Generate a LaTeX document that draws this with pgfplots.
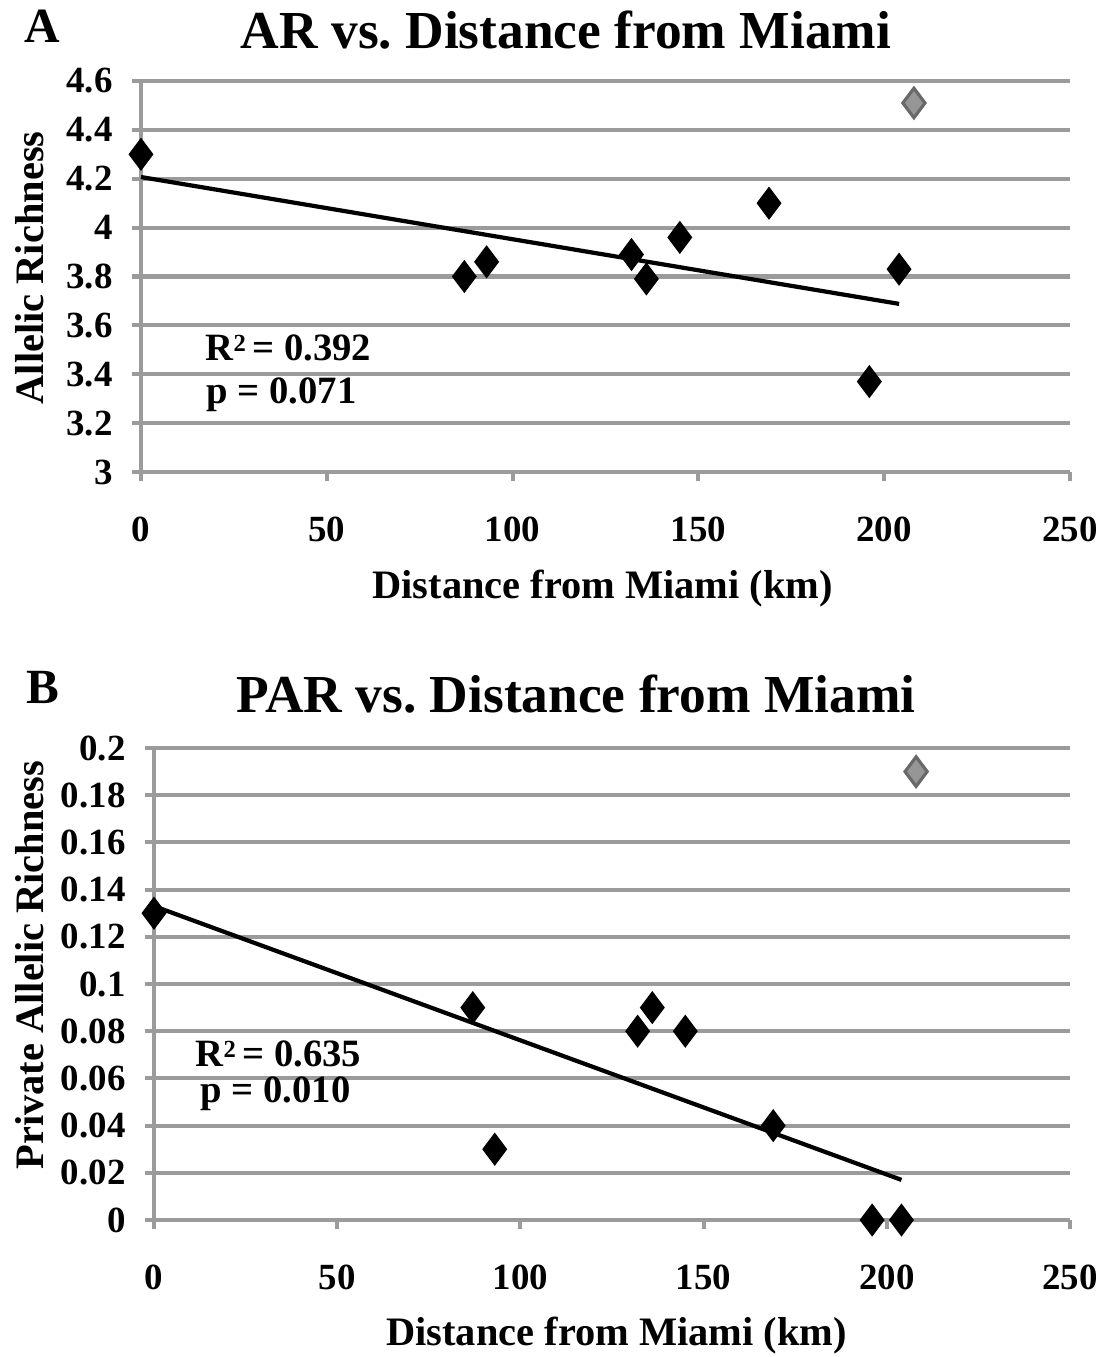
\documentclass[border=0pt]{standalone}
\usepackage{fontspec}
\setmainfont{Liberation Serif}
\usepackage{pgfplots}
\pgfplotsset{compat=1.18}

\definecolor{gridgray}{RGB}{155,155,155}
\definecolor{outfill}{RGB}{150,150,150}
\definecolor{outdraw}{RGB}{105,105,105}

% shared look of both panels
\pgfplotsset{panel/.style={
  scale only axis,
  clip=false,
  xmin=0, xmax=250,
  xtick={0,50,100,150,200,250},
  axis x line*=bottom, axis y line*=left,
  axis line style={gridgray, line width=1.15pt, -},
  ymajorgrids,
  grid style={gridgray, line width=1.15pt},
  tick align=outside,
  major tick length=0.9mm,
  tick style={gridgray, line width=1.15pt},
  /pgf/number format/assume math mode=true,
  ticklabel style={font=\fontsize{10.5}{12}\selectfont\bfseries},
  xticklabel style={yshift=-2.4mm},
  yticklabel style={xshift=-0.7mm},
  label style={font=\fontsize{11.5}{13}\selectfont\bfseries, anchor=center},
}}
\pgfplotsset{pts/.style={only marks, mark=diamond*, mark size=4.4pt,
  mark options={fill=black, draw=black}}}
\pgfplotsset{outlier/.style={only marks, mark=diamond*, mark size=4.2pt,
  mark options={fill=outfill, draw=outdraw, line width=0.9pt}}}
\pgfplotsset{trend/.style={black, line width=1.2pt, no marks}}

\newcommand{\Rsq}{R\raisebox{0.5ex}{\fontsize{7}{8}\selectfont 2}\,}
\tikzset{stat/.style={anchor=base west, inner sep=0, font=\fontsize{11}{12}\selectfont\bfseries}}

\begin{document}
\begin{tikzpicture}
\path[use as bounding box] (0,0) rectangle (110.3mm,-135.7mm);

% ---------- panel A ----------
\node[anchor=base west, inner sep=0, font=\fontsize{14}{16}\selectfont\bfseries] at (2.4mm,-4.3mm) {A};
\node[anchor=base, inner sep=0, font=\fontsize{15.2}{18}\selectfont\bfseries] at (56.6mm,-4.9mm) {AR vs.\ Distance from Miami};

\begin{axis}[panel,
  at={(14.1mm,-47.2mm)}, anchor=south west,
  width=92.9mm, height=39.1mm,
  ymin=3, ymax=4.6,
  ytick={3,3.2,3.4,3.6,3.8,4,4.2,4.4,4.6},
  xlabel={Distance from Miami (km)},
  ylabel={Allelic Richness},
  xlabel style={at={(axis description cs:0.497,-0.297)}},
  ylabel style={at={(axis description cs:-0.1195,0.522)}},
]
\addplot[trend] coordinates {(0,4.207) (204,3.688)};
\addplot[pts] coordinates {
  (0,4.30) (87,3.80) (93,3.86) (132,3.89) (136,3.79)
  (145,3.96) (169,4.10) (196,3.37) (204,3.83)};
\addplot[outlier] coordinates {(208,4.51)};
\end{axis}

\node[stat] at (20.5mm,-36.0mm) {\Rsq= 0.392};
\node[stat] at (20.6mm,-40.3mm) {p = 0.071};

% ---------- panel B ----------
\node[anchor=base west, inner sep=0, font=\fontsize{14}{16}\selectfont\bfseries] at (2.6mm,-70.3mm) {B};
\node[anchor=base, inner sep=0, font=\fontsize{15.2}{18}\selectfont\bfseries] at (57.6mm,-71.2mm) {PAR vs.\ Distance from Miami};

\begin{axis}[panel,
  at={(15.4mm,-122.0mm)}, anchor=south west,
  width=91.6mm, height=47.2mm,
  ymin=0, ymax=0.2,
  ytick={0,0.02,0.04,0.06,0.08,0.1,0.12,0.14,0.16,0.18,0.2},
  scaled y ticks=false,
  yticklabel style={/pgf/number format/fixed, /pgf/number format/precision=2},
  xlabel={Distance from Miami (km)},
  ylabel={Private Allelic Richness},
  xlabel style={at={(axis description cs:0.505,-0.244)}},
  ylabel style={at={(axis description cs:-0.1354,0.54)}},
]
\addplot[trend] coordinates {(0,0.133) (204,0.017)};
\addplot[pts] coordinates {
  (0,0.13) (87,0.09) (93,0.03) (132,0.08) (136,0.09)
  (145,0.08) (169,0.04) (196,0) (204,0)};
\addplot[outlier] coordinates {(208,0.19)};
\end{axis}

\node[stat] at (19.5mm,-106.6mm) {\Rsq= 0.635};
\node[stat] at (20.0mm,-110.2mm) {p = 0.010};
\end{tikzpicture}
\end{document}
